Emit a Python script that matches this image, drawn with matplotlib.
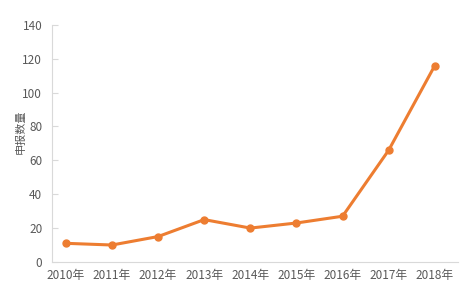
import matplotlib.pyplot as plt

plt.rcParams['font.family'] = ['Noto Sans CJK SC', 'DejaVu Sans']

years = ['2010年', '2011年', '2012年', '2013年', '2014年', '2015年', '2016年', '2017年', '2018年']
counts = [11, 10, 15, 25, 20, 23, 27, 66, 116]

fig = plt.figure(figsize=(4.73, 2.93), dpi=100)
ax = fig.add_axes([0.11, 0.106, 0.858, 0.809])

x = range(len(years))
ax.plot(x, counts, color='#ED7D31', linewidth=2.2, marker='o', markersize=5)

ax.set_xlim(-0.3, len(years) - 0.5)
ax.set_ylim(0, 140)
ax.set_yticks(range(0, 141, 20))
ax.set_xticks(list(x))
ax.set_xticklabels(years)
ax.set_ylabel('申报数量', fontsize=8, color='#595959')
ax.yaxis.set_label_coords(-0.066, 0.55)

for s in ['top', 'right']:
    ax.spines[s].set_visible(False)
for s in ['left', 'bottom']:
    ax.spines[s].set_color('#D9D9D9')
ax.tick_params(axis='y', colors='#D9D9D9', labelcolor='#595959', labelsize=8.5,
               length=4, direction='in', pad=7)
ax.tick_params(axis='x', length=0, labelcolor='#595959', labelsize=8.5, pad=5)

fig.savefig('out.png', dpi=100)
